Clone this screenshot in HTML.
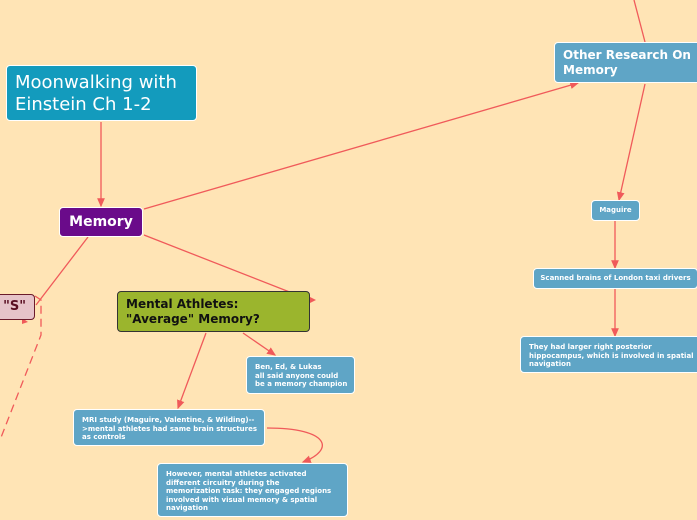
<!DOCTYPE html>
<html><head><style>
body{margin:0;width:697px;height:520px;background:#ffe4b5;position:relative;overflow:hidden;font-family:"DejaVu Sans","Liberation Sans",sans-serif}
.n{position:absolute;box-sizing:border-box;border:1px solid #fff;border-radius:4px;color:#fff;font-weight:bold;background:#5fa5c6}
.s{font-size:7px;line-height:8.6px;padding:5px 8px;white-space:nowrap}
svg{position:absolute;left:0;top:0}
</style></head><body>
<svg width="697" height="520">
<defs><marker id="a" markerWidth="8" markerHeight="8" refX="6" refY="4" orient="auto"><path d="M0,1 L7,4 L0,7z" fill="#f05a5a"/></marker></defs>
<g stroke="#f05a5a" stroke-width="1.3" fill="none">
<line x1="101" y1="122" x2="101" y2="206" marker-end="url(#a)"/>
<line x1="144" y1="209" x2="578" y2="83" marker-end="url(#a)"/>
<line x1="144" y1="235" x2="310" y2="300" />
<line x1="88" y1="237" x2="36" y2="305"/>
<line x1="634" y1="0" x2="645" y2="42"/>
<line x1="645" y1="84" x2="619" y2="200" marker-end="url(#a)"/>
<line x1="615" y1="221" x2="615" y2="268" marker-end="url(#a)"/>
<line x1="615" y1="289" x2="615" y2="336" marker-end="url(#a)"/>
<line x1="206" y1="333" x2="178" y2="408" marker-end="url(#a)"/>
<line x1="243" y1="333" x2="275" y2="355" marker-end="url(#a)"/>
<path d="M267 428 C330 428,335 450,303 462" marker-end="url(#a)"/>
<path d="M35 296 L41 300 L41 335 L0 440" stroke-dasharray="8,5"/>
</g>
<path d="M310 297 L316 300 L310 303z" fill="#f05a5a"/>
<path d="M22 318 L28 322 L22 324z" fill="#f05a5a"/>
</svg>
<div class="n" style="left:6px;top:65px;width:191px;height:56px;background:#139bbd;font-weight:normal;font-size:18px;line-height:22px;padding:6px 8px">Moonwalking with Einstein Ch 1-2</div>
<div class="n" style="left:59px;top:207px;width:84px;height:30px;background:#6a0b8a;font-size:14px;line-height:28px;text-align:center">Memory</div>
<div class="n" style="left:-10px;top:294px;width:45px;height:26px;background:#e6c3c9;color:#5a0f22;border-color:#6a1a2a;font-size:13px;line-height:24px;text-align:right;padding-right:8px">"S"</div>
<div class="n" style="left:117px;top:291px;width:193px;height:41px;background:#9bb52d;color:#111;border-color:#333;font-size:12px;line-height:15px;padding:5px 8px">Mental Athletes:<br>"Average" Memory?</div>
<div class="n" style="left:554px;top:42px;width:150px;height:41px;font-size:12px;line-height:15px;padding:5px 8px">Other Research On Memory</div>
<div class="n s" style="left:591px;top:200px;width:49px;height:21px;text-align:center;padding:0;line-height:19px">Maguire</div>
<div class="n s" style="left:533px;top:268px;width:165px;height:21px;text-align:center;padding:0;line-height:19px">Scanned brains of London taxi drivers</div>
<div class="n s" style="left:520px;top:336px;width:185px;height:37px;padding-top:6px">They had larger right posterior<br>hippocampus, which is involved in spatial<br>navigation</div>
<div class="n s" style="left:246px;top:356px;width:109px;height:38px;padding-top:6px">Ben, Ed, &amp; Lukas<br>all said anyone could<br>be a memory champion</div>
<div class="n s" style="left:73px;top:409px;width:192px;height:37px;padding-top:6px">MRI study (Maguire, Valentine, &amp; Wilding)--<br>&gt;mental athletes had same brain structures<br>as controls</div>
<div class="n s" style="left:157px;top:463px;width:191px;height:54px;padding-top:6px">However, mental athletes activated<br>different circuitry during the<br>memorization task: they engaged regions<br>involved with visual memory &amp; spatial<br>navigation</div>
</body></html>
